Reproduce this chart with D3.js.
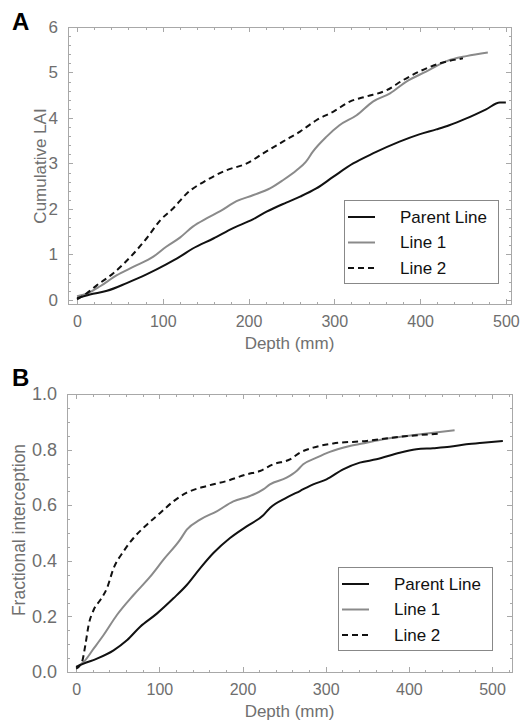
<!DOCTYPE html>
<meta charset="utf-8">
<style>
body { margin: 0; background: #fff; }
svg text { font-family: "Liberation Sans", Arial, sans-serif; }
.frame { fill: none; stroke: #a8a8a8; stroke-width: 1; }
.axis path { display: none; }
.axis line { stroke: #a8a8a8; shape-rendering: crispEdges; }
.axis text { fill: #6e6e6e; font-size: 16px; }
.title { fill: #707070; }
.series { fill: none; stroke-width: 2; stroke-linejoin: round; }
</style>
<svg width="525" height="722"></svg>
<script src="https://d3js.org/d3.v7.min.js"></script>
<script>
// panel A: cumulative LAI against depth
var laiParent = [[0,0.04],[15,0.12],[35,0.2],[58,0.37],[81,0.56],[104,0.78],[120,0.95],[135,1.13],[159,1.35],[182,1.58],[205,1.77],[221,1.94],[244,2.14],[260,2.27],[279,2.45],[299,2.71],[322,3.0],[345,3.22],[376,3.48],[399,3.64],[419,3.75],[434,3.84],[454,3.99],[477,4.19],[493,4.34],[500,4.34]];
var laiLine1 = [[0,0.08],[13,0.15],[27,0.3],[46,0.54],[66,0.73],[89,0.95],[104,1.17],[120,1.37],[135,1.61],[151,1.79],[167,1.95],[186,2.17],[205,2.3],[225,2.45],[240,2.63],[256,2.85],[267,3.04],[275,3.26],[291,3.59],[306,3.84],[326,4.06],[345,4.36],[365,4.54],[384,4.8],[407,5.02],[431,5.25],[454,5.36],[479,5.44]];
var laiLine2 = [[0,0.01],[11,0.14],[23,0.32],[42,0.58],[66,1.02],[81,1.35],[97,1.75],[112,2.01],[128,2.34],[151,2.63],[174,2.85],[198,3.0],[217,3.22],[240,3.48],[260,3.7],[279,3.95],[299,4.14],[318,4.36],[337,4.47],[361,4.61],[380,4.83],[399,5.02],[423,5.2],[450,5.31]];

// panel B: fractional interception against depth
var fiParent = [[0,0.018],[9,0.03],[25,0.048],[45,0.078],[61,0.114],[77,0.163],[97,0.21],[117,0.265],[133,0.313],[149,0.373],[165,0.428],[185,0.482],[205,0.524],[225,0.564],[233,0.59],[253,0.627],[269,0.651],[285,0.675],[301,0.693],[321,0.729],[341,0.753],[361,0.765],[389,0.789],[409,0.801],[429,0.805],[449,0.81],[469,0.819],[489,0.825],[513,0.831]];
var fiLine1 = [[0,0.018],[9,0.036],[21,0.084],[33,0.133],[49,0.205],[69,0.277],[89,0.343],[105,0.404],[125,0.476],[133,0.512],[149,0.548],[169,0.578],[189,0.614],[209,0.633],[225,0.657],[233,0.675],[253,0.699],[265,0.723],[273,0.747],[289,0.771],[305,0.792],[329,0.813],[349,0.825],[369,0.837],[409,0.853],[455,0.87]];
var fiLine2 = [[0,0.012],[7,0.036],[11,0.096],[15,0.169],[21,0.223],[29,0.259],[37,0.301],[45,0.373],[57,0.434],[69,0.482],[85,0.53],[101,0.572],[117,0.614],[133,0.645],[157,0.669],[181,0.687],[205,0.711],[221,0.723],[237,0.747],[257,0.765],[269,0.789],[285,0.807],[309,0.822],[349,0.831],[389,0.846],[439,0.858]];

var seriesNames = ["Parent Line", "Line 1", "Line 2"];
var seriesColors = ["#111", "#8a8a8a", "#111"];
var seriesDash = [null, null, "6,4"];

var xTicks = [0, 100, 200, 300, 400, 500];
var xMinor = d3.range(0, 521, 20);

var svg = d3.select("svg");

function panel(opt) {
  var x = d3.scaleLinear().domain(opt.xDomain).range([opt.left, opt.right]);
  var y = d3.scaleLinear().domain(opt.yDomain).range([opt.bottom, opt.top]);
  var g = svg.append("g");
  var xm = xMinor.filter(function(d) { return d >= opt.xDomain[0] && d <= opt.xDomain[1]; });
  var ym = opt.yMinor;

  // minor ticks on all four sides, pointing in
  g.append("g").attr("class", "axis").attr("transform", "translate(0," + opt.bottom + ")")
    .call(d3.axisBottom(x).tickValues(xm).tickSize(-2.5).tickFormat(""));
  g.append("g").attr("class", "axis").attr("transform", "translate(0," + opt.top + ")")
    .call(d3.axisTop(x).tickValues(xm).tickSize(-2.5).tickFormat(""));
  g.append("g").attr("class", "axis").attr("transform", "translate(" + opt.left + ",0)")
    .call(d3.axisLeft(y).tickValues(ym).tickSize(-2.5).tickFormat(""));
  g.append("g").attr("class", "axis").attr("transform", "translate(" + opt.right + ",0)")
    .call(d3.axisRight(y).tickValues(ym).tickSize(-2.5).tickFormat(""));

  // major ticks + labels
  g.append("g").attr("class", "axis").attr("transform", "translate(0," + opt.bottom + ")")
    .call(d3.axisBottom(x).tickValues(xTicks).tickSize(-5).tickPadding(9))
    .selectAll("text").attr("dy", "0.9em");
  g.append("g").attr("class", "axis").attr("transform", "translate(0," + opt.top + ")")
    .call(d3.axisTop(x).tickValues(xTicks).tickSize(-5).tickFormat(""));
  var ya = g.append("g").attr("class", "axis").attr("transform", "translate(" + opt.left + ",0)")
    .call(d3.axisLeft(y).tickValues(opt.yTicks).tickSize(-5).tickPadding(10).tickFormat(opt.yFormat));
  ya.selectAll("text").style("font-size", opt.yFont + "px");
  g.append("g").attr("class", "axis").attr("transform", "translate(" + opt.right + ",0)")
    .call(d3.axisRight(y).tickValues(opt.yTicks).tickSize(-5).tickFormat(""));

  g.append("rect").attr("class", "frame")
    .attr("x", opt.left + 0.5).attr("y", opt.top + 0.5)
    .attr("width", opt.right - opt.left).attr("height", opt.bottom - opt.top);

  var line = d3.line()
    .x(function(d) { return x(d[0]); })
    .y(function(d) { return y(d[1]); })
    .curve(d3.curveMonotoneX);

  // draw dashed last so the gray sits under it like the figure
  [1, 0, 2].forEach(function(i) {
    g.append("path").attr("class", "series")
      .attr("d", line(opt.data[i]))
      .attr("stroke", seriesColors[i])
      .attr("stroke-dasharray", seriesDash[i]);
  });

  // legend
  var lg = g.append("g").attr("transform", "translate(" + opt.legend[0] + "," + opt.legend[1] + ")");
  lg.append("rect").attr("x", 0.5).attr("y", 0.5).attr("width", 154).attr("height", 83)
    .attr("fill", "#fff").attr("stroke", "#888");
  seriesNames.forEach(function(name, i) {
    var yy = 17 + i * 25.5;
    lg.append("line").attr("x1", 4).attr("x2", 31).attr("y1", yy).attr("y2", yy)
      .attr("stroke", seriesColors[i]).attr("stroke-width", 2)
      .attr("stroke-dasharray", seriesDash[i]);
    lg.append("text").attr("x", 56).attr("y", yy).attr("dy", "0.35em")
      .style("font-size", "17px").attr("fill", "#111").text(name);
  });

  g.append("text").attr("class", "title")
    .attr("x", (opt.left + opt.right) / 2).attr("y", opt.bottom + 45)
    .attr("text-anchor", "middle").style("font-size", "17px").text("Depth (mm)");
  g.append("text").attr("class", "title")
    .attr("transform", "translate(" + opt.yTitleX + "," + opt.yTitleY + ") rotate(-90)")
    .attr("text-anchor", "middle").attr("dy", "0.35em")
    .style("font-size", opt.yTitleFont + "px").text(opt.yTitle);

  svg.append("text").attr("x", 12).attr("y", opt.letterY)
    .style("font-size", "24px").style("font-weight", "bold").attr("fill", "#000").text(opt.letter);
}

panel({
  letter: "A", letterY: 30,
  left: 68, right: 511, top: 27, bottom: 304,
  xDomain: [-10.5, 506], yDomain: [-0.09, 6],
  yTicks: [0, 1, 2, 3, 4, 5, 6], yMinor: d3.range(0, 6.01, 0.2), yFormat: d3.format("d"), yFont: 17,
  data: [laiParent, laiLine1, laiLine2],
  legend: [344, 200],
  yTitle: "Cumulative LAI", yTitleX: 40, yTitleY: 166, yTitleFont: 17
});

panel({
  letter: "B", letterY: 386,
  left: 67, right: 512, top: 394, bottom: 672,
  xDomain: [-11, 524], yDomain: [0, 1],
  yTicks: [0, 0.2, 0.4, 0.6, 0.8, 1.0], yMinor: d3.range(0, 1.001, 0.05), yFormat: d3.format(".1f"), yFont: 18,
  data: [fiParent, fiLine1, fiLine2],
  legend: [338, 567],
  yTitle: "Fractional interception", yTitleX: 19, yTitleY: 530, yTitleFont: 17.5
});
</script>
